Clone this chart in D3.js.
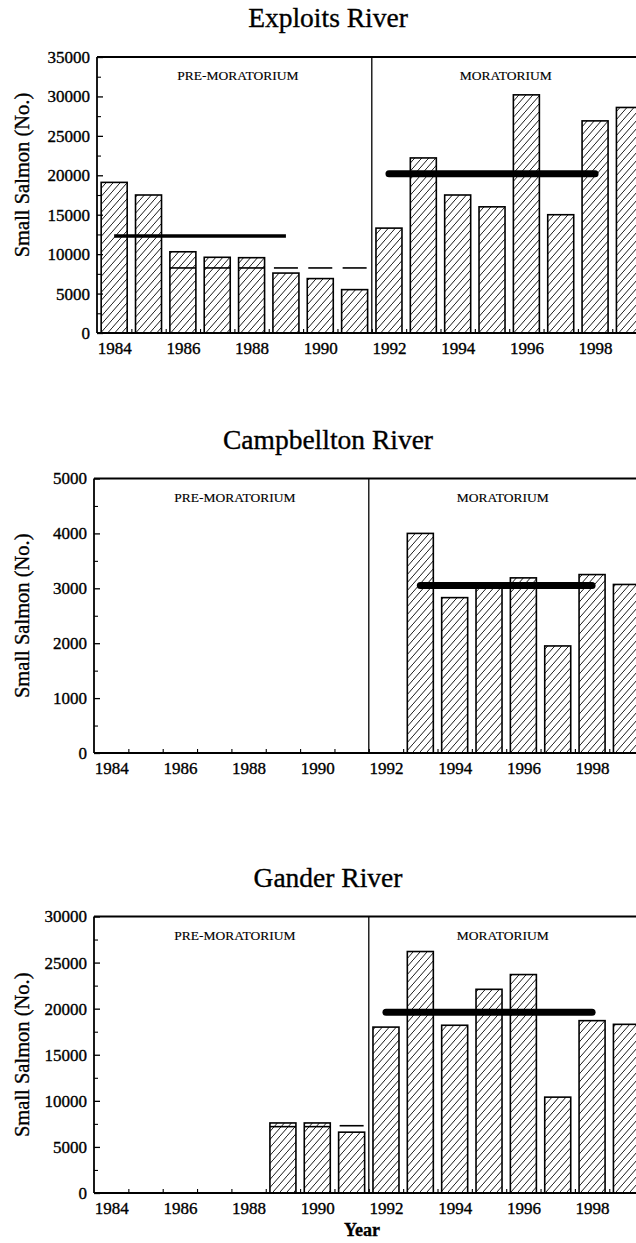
<!DOCTYPE html>
<html>
<head>
<meta charset="utf-8">
<script src="https://cdn.jsdelivr.net/npm/d3@7/dist/d3.min.js"></script>
<style>
  html, body { margin: 0; padding: 0; background: #fff; }
  svg { display: block; }
  svg text { font-family: "Liberation Serif", "DejaVu Serif", serif; fill: #000; stroke: #000; stroke-width: 0.35px; }
</style>
</head>
<body>
<svg id="chart" width="636" height="1243"></svg>
<script>
// ---------------- DATA ----------------
const years = [1984, 1985, 1986, 1987, 1988, 1989, 1990, 1991, 1992, 1993, 1994, 1995, 1996, 1997, 1998, 1999];
const xTickLabels = [1984, 1986, 1988, 1990, 1992, 1994, 1996, 1998];

const exploitsValues = [19100, 17500, 10300, 9600, 9550, 7600, 6900, 5500, 13300, 22200, 17500, 16000, 30200, 15000, 26900, 28600];
const exploitsSplit  = [null, null, 8250, 8250, 8250, 8250, 8250, 8250, null, null, null, null, null, null, null, null];
const exploitsMeans  = [[1984, 1989, 12300], [1992, 1998, 20200]];
const exploitsYTicks = [0, 5000, 10000, 15000, 20000, 25000, 30000, 35000];

const campbelltonValues = [null, null, null, null, null, null, null, null, null, 4000, 2830, 3050, 3190, 1950, 3250, 3070];
const campbelltonSplit  = [null, null, null, null, null, null, null, null, null, null, null, null, null, null, null, null];
const campbelltonMeans  = [[1993, 1998, 3050]];
const campbelltonYTicks = [0, 1000, 2000, 3000, 4000, 5000];

const ganderValues = [null, null, null, null, null, 7600, 7600, 6600, 18000, 26200, 18200, 22100, 23700, 10400, 18700, 18300];
const ganderSplit  = [null, null, null, null, null, 7200, 7200, 7300, null, null, null, null, null, null, null, null];
const ganderMeans  = [[1992, 1998, 19600]];
const ganderYTicks = [0, 5000, 10000, 15000, 20000, 25000, 30000];

const periodLabels = ["PRE-MORATORIUM", "MORATORIUM"];
const periodLabelYears = [1987.6, 1995.4];
const moratoriumStart = 1991.5;
const yAxisTitle = "Small Salmon (No.)";
const xAxisTitle = "Year";

// ---------------- LAYOUT ----------------
const panels = [
  { title: "Exploits River",    values: exploitsValues,    split: exploitsSplit,    means: exploitsMeans,    yTicks: exploitsYTicks,    top: 57,    bottom: 333,  x0: 97, yLabelShift: -20 },
  { title: "Campbellton River", values: campbelltonValues, split: campbelltonSplit, means: campbelltonMeans, yTicks: campbelltonYTicks, top: 478.5, bottom: 753,  x0: 94, yLabelShift: 0 },
  { title: "Gander River",      values: ganderValues,      split: ganderSplit,      means: ganderMeans,      yTicks: ganderYTicks,      top: 916.5, bottom: 1193, x0: 94, yLabelShift: 0 }
];
const yearStep = 34.35;
const FONT = "Liberation Serif, DejaVu Serif, serif";
const svg = d3.select("#chart");

// hatch pattern
const defs = svg.append("defs");
const pw = 7, ph = 8;
defs.append("pattern")
  .attr("id", "hatch")
  .attr("patternUnits", "userSpaceOnUse")
  .attr("width", pw).attr("height", ph)
  .append("path")
  .attr("d", `M${-pw * 0.5},${ph * 1.5} L${pw * 1.5},${-ph * 0.5}`)
  .attr("stroke", "#000").attr("stroke-width", 0.9).attr("fill", "none");

panels.forEach((p, pi) => {
  const g = svg.append("g").attr("font-family", FONT);
  const x = d3.scaleLinear()
    .domain([years[0] - 0.5, years[years.length - 1] + 0.5])
    .range([p.x0, p.x0 + years.length * yearStep]);
  const yMax = d3.max(p.yTicks);
  const y = d3.scaleLinear().domain([0, yMax]).range([p.bottom, p.top]);
  const barW = yearStep * 0.757;

  // title
  g.append("text")
    .attr("x", 328).attr("y", p.top - 30)
    .attr("text-anchor", "middle")
    .attr("font-size", 27.5)
    .text(p.title);

  // bars
  const data = years.map((yr, i) => ({ year: yr, value: p.values[i], split: p.split[i] }));
  g.selectAll("rect.bar")
    .data(data.filter(d => d.value != null))
    .join("rect")
    .attr("class", "bar")
    .attr("x", d => x(d.year) - barW / 2)
    .attr("width", barW)
    .attr("y", d => y(d.value))
    .attr("height", d => y(0) - y(d.value))
    .attr("fill", "url(#hatch)")
    .attr("stroke", "#000")
    .attr("stroke-width", 1.6);

  // split lines (inside bars) and dashes (above bars)
  g.selectAll("line.split")
    .data(data.filter(d => d.split != null))
    .join("line")
    .attr("class", "split")
    .attr("x1", d => x(d.year) - barW / 2 + (d.value != null && d.split > d.value ? 1 : 0))
    .attr("x2", d => x(d.year) + barW / 2 - (d.value != null && d.split > d.value ? 1 : 0))
    .attr("y1", d => y(d.split))
    .attr("y2", d => y(d.split))
    .attr("stroke", "#000")
    .attr("stroke-width", 1.6);

  // mean lines
  g.selectAll("line.mean")
    .data(p.means)
    .join("line")
    .attr("class", "mean")
    .attr("x1", d => x(d[0]))
    .attr("x2", d => x(d[1]))
    .attr("y1", d => y(d[2]))
    .attr("y2", d => y(d[2]))
    .attr("stroke", "#000")
    .attr("stroke-width", d => d[0] < moratoriumStart ? 3.5 : 7)
    .attr("stroke-linecap", d => d[0] < moratoriumStart ? "butt" : "round");

  // frame: top line, left axis, bottom axis, divider
  const xr = x.range();
  g.append("line").attr("x1", xr[0]).attr("x2", 640).attr("y1", p.top).attr("y2", p.top)
    .attr("stroke", "#000").attr("stroke-width", 1.8);
  g.append("line").attr("x1", xr[0]).attr("x2", xr[0]).attr("y1", p.top).attr("y2", p.bottom)
    .attr("stroke", "#000").attr("stroke-width", 1.8);
  g.append("line").attr("x1", xr[0]).attr("x2", 640).attr("y1", p.bottom).attr("y2", p.bottom)
    .attr("stroke", "#000").attr("stroke-width", 2);
  g.append("line").attr("x1", x(moratoriumStart)).attr("x2", x(moratoriumStart))
    .attr("y1", p.top).attr("y2", p.bottom)
    .attr("stroke", "#000").attr("stroke-width", 1.3);

  // y axis: major ticks with labels
  const yAxis = d3.axisLeft(y).tickValues(p.yTicks).tickSize(-6).tickPadding(7).tickFormat(d3.format("d"));
  const ya = g.append("g").attr("transform", `translate(${xr[0]},0)`).call(yAxis);
  ya.attr("font-family", FONT).attr("font-size", 17);
  ya.select(".domain").remove();
  ya.selectAll("line").attr("stroke-width", 1.3);

  // y axis minor ticks
  const minor = d3.pairs(p.yTicks).map(([a, b]) => (a + b) / 2);
  const ym = g.append("g").attr("transform", `translate(${xr[0]},0)`)
    .call(d3.axisLeft(y).tickValues(minor).tickSize(-4).tickFormat(""));
  ym.select(".domain").remove();
  ym.selectAll("line").attr("stroke-width", 1.1);

  // x axis labels
  const xa = g.append("g").attr("transform", `translate(0,${p.bottom})`)
    .call(d3.axisBottom(x).tickValues(xTickLabels).tickSize(0).tickPadding(9).tickFormat(d3.format("d")));
  xa.attr("font-family", FONT).attr("font-size", 17);
  xa.select(".domain").remove();

  // x axis small ticks between years
  const halfYears = years.slice(0, -1).map(v => v + 0.5);
  const xt = g.append("g").attr("transform", `translate(0,${p.bottom})`)
    .call(d3.axisBottom(x).tickValues(halfYears).tickSize(-4).tickFormat(""));
  xt.select(".domain").remove();
  xt.selectAll("line").attr("stroke-width", 1.1);

  // period labels
  g.selectAll("text.period")
    .data(periodLabels)
    .join("text")
    .attr("class", "period")
    .attr("x", (d, i) => x(periodLabelYears[i]))
    .attr("y", p.top + 23)
    .attr("text-anchor", "middle")
    .attr("font-size", 13.5)
    .style("stroke-width", "0.15px")
    .text(d => d);

  // y axis title
  const cy = (p.top + p.bottom) / 2 + p.yLabelShift;
  g.append("text")
    .attr("transform", `translate(29,${cy}) rotate(-90)`)
    .attr("text-anchor", "middle")
    .attr("font-size", 20.5)
    .text(yAxisTitle);

  // x axis title on last panel
  if (pi === panels.length - 1) {
    g.append("text")
      .attr("x", x(1991.3)).attr("y", p.bottom + 43)
      .attr("text-anchor", "middle")
      .attr("font-size", 18)
      .attr("font-weight", "bold")
      .text(xAxisTitle);
  }
});
</script>
</body>
</html>
